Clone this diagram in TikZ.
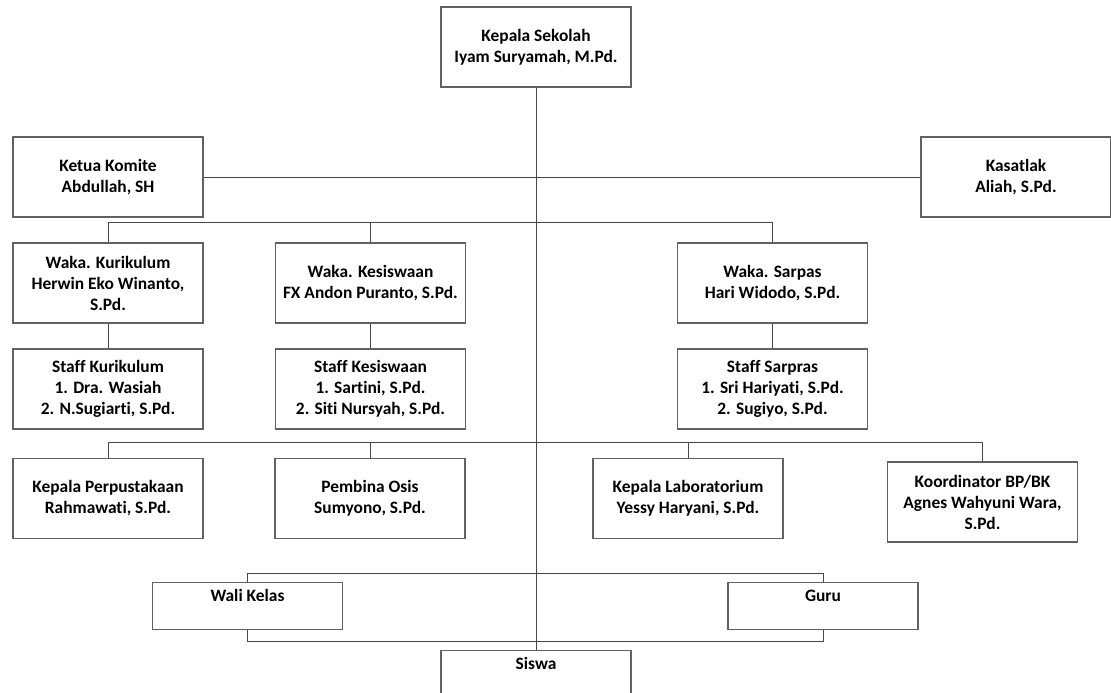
\documentclass[tikz,border=0pt]{standalone}
\usepackage{fontspec}
\setmainfont{Carlito}[Ligatures=NoCommon]
\begin{document}
\begin{tikzpicture}[x=1pt,y=-1pt,
  orgbox/.style={draw=black!62, line width=1.3pt, fill=white,
    minimum width=190pt, minimum height=80pt, inner sep=2pt,
    align=center, text=black,
    font=\bfseries\fontsize{17.4}{21}\selectfont},
  topbox/.style={orgbox, anchor=north, minimum height=0pt, inner ysep=0pt,
    text height=19pt, text depth=28pt},
  conn/.style={draw=black!72, line width=1pt}
]
\fill[white] (0,0) rectangle (1111,693);
\useasboundingbox (0,0) rectangle (1111,693);

% bus heights
\coordinate (busA) at (0,222);
\coordinate (busB) at (0,442);
\coordinate (busC) at (0,573);
\coordinate (busD) at (0,641);

% boxes
\node[orgbox] (ks) at (536,47) {Kepala Sekolah\\Iyam Suryamah, M.Pd.};
\node[orgbox] (ketua) at (108,177) {Ketua Komite\\Abdullah, SH};
\node[orgbox] (kasatlak) at (1016,177) {Kasatlak\\Aliah, S.Pd.};

\node[orgbox] (wk) at (108,283) {Waka. Kurikulum\\Herwin Eko Winanto,\\S.Pd.};
\node[orgbox] (wks) at (370.5,283) {Waka. Kesiswaan\\FX Andon Puranto, S.Pd.};
\node[orgbox] (wsp) at (772.5,283) {Waka. Sarpas\\Hari Widodo, S.Pd.};

\node[orgbox] (sk) at (108,389) {Staff Kurikulum\\1. Dra. Wasiah\\2. N.Sugiarti, S.Pd.};
\node[orgbox] (sks) at (370.5,389) {Staff Kesiswaan\\1. Sartini, S.Pd.\\2. Siti Nursyah, S.Pd.};
\node[orgbox] (ssp) at (772.5,389) {Staff Sarpras\\1. Sri Hariyati, S.Pd.\\2. Sugiyo, S.Pd.};

\node[orgbox] (perpus) at (108,498.5) {Kepala Perpustakaan\\Rahmawati, S.Pd.};
\node[orgbox] (osis) at (370,498.5) {Pembina Osis\\Sumyono, S.Pd.};
\node[orgbox] (lab) at (688,498.5) {Kepala Laboratorium\\Yessy Haryani, S.Pd.};
\node[orgbox] (bk) at (982.5,502) {Koordinator BP/BK\\Agnes Wahyuni Wara,\\S.Pd.};

\node[topbox] (wali) at (247.5,582) {Wali Kelas};
\node[topbox] (guru) at (823,582) {Guru};
\node[topbox, text depth=60pt] (siswa) at (536,650) {Siswa};

% connectors
\draw[conn] (ks.south) -- (siswa.north);
\draw[conn] (ketua.east) -- (kasatlak.west);

\draw[conn] (wk.north) -- (wk.north |- busA) -- (wsp.north |- busA) -- (wsp.north);
\draw[conn] (wks.north) -- (wks.north |- busA);

\draw[conn] (wk.south) -- (sk.north);
\draw[conn] (wks.south) -- (sks.north);
\draw[conn] (wsp.south) -- (ssp.north);

\draw[conn] (perpus.north) -- (perpus.north |- busB) -- (bk.north |- busB) -- (bk.north);
\draw[conn] (osis.north) -- (osis.north |- busB);
\draw[conn] (lab.north) -- (lab.north |- busB);

\draw[conn] (wali.north) -- (wali.north |- busC) -- (guru.north |- busC) -- (guru.north);
\draw[conn] (wali.south) -- (wali.south |- busD) -- (guru.south |- busD) -- (guru.south);
\end{tikzpicture}
\end{document}
